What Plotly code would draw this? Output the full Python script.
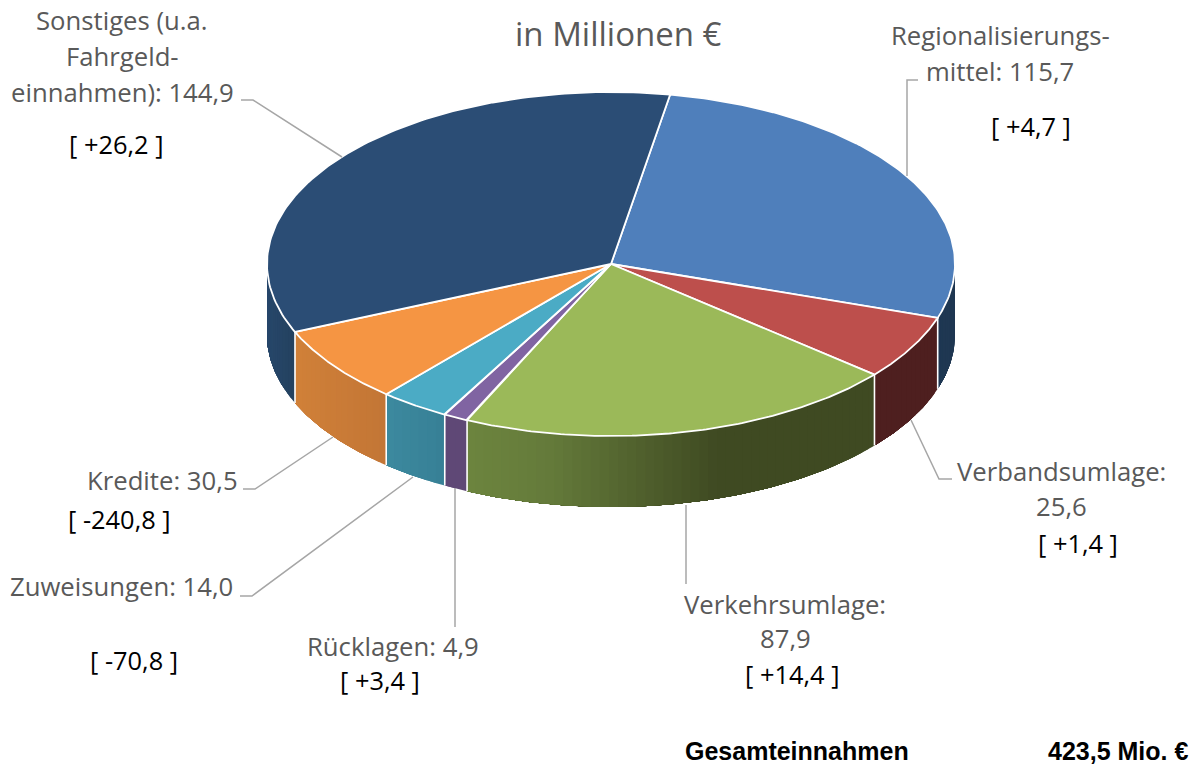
import numpy as np
import plotly.graph_objects as go

# ---- data ----
categories = ["Regionalisierungsmittel", "Verbandsumlage", "Verkehrsumlage", "Rücklagen",
              "Zuweisungen", "Kredite", "Sonstiges"]
values = [115.7, 25.6, 87.9, 4.9, 14.0, 30.5, 144.9]
changes = ["+4,7", "+1,4", "+14,4", "+3,4", "-70,8", "-240,8", "+26,2"]
total_text = "423,5 Mio. €"
title_text = "in Millionen €"

# ---- styles ----
top_colors = ["#4f7fbb", "#bd4f4c", "#9bb959", "#8064a2", "#4babc5", "#f59543", "#2b4d75"]
side_stops = [
    [(0, "#1f3752"), (1, "#1f3752")],
    [(0, "#4e1f1f"), (1, "#4e1f1f")],
    [(0, "#6d853f"), (0.2, "#657b3b"), (0.62, "#3f4a22"), (1, "#3f4a22")],
    [(0, "#5f4876"), (1, "#5f4876")],
    [(0, "#3d8a9f"), (1, "#378096")],
    [(0, "#d18139"), (1, "#c37636")],
    [(0, "#27476b"), (1, "#24425f")],
]
FONT = "Open Sans"
GREY = "#595959"
LINE = "#a6a6a6"
CX, CY, RX, RY, DEPTH = 611.0, 264.0, 344.0, 172.0, 71.0
START = 9.9


def hex_rgb(h):
    return np.array([int(h[i:i + 2], 16) for i in (1, 3, 5)], float)


def stop_color(stops, f):
    for (a, ca), (b, cb) in zip(stops, stops[1:]):
        if f <= b:
            t = 0 if b == a else (f - a) / (b - a)
            c = hex_rgb(ca) * (1 - t) + hex_rgb(cb) * t
            return "rgb(%d,%d,%d)" % tuple(c)
    return stops[-1][1]


def ex(a):
    return CX + RX * np.sin(np.radians(a))


def ey(a):
    return CY - RY * np.cos(np.radians(a))


fig = go.Figure()
shares = np.array(values) / sum(values) * 360
edges = START + np.concatenate([[0], np.cumsum(shares)])

# outer wall of the visible front half; strips overlap so no seams show
for i, name in enumerate(categories):
    lo, hi = max(edges[i], 90.0), min(edges[i + 1], 270.0)
    if hi <= lo:
        continue
    n = max(1, int((hi - lo) / 1.5))
    steps = np.linspace(lo, hi, n + 1)
    x_lo, x_hi = ex(lo), ex(hi)
    for a, b in zip(steps, steps[1:]):
        arc = np.linspace(a, hi, max(4, int((hi - a) * 2)))
        xs = np.concatenate([ex(arc), ex(arc[::-1])])
        ys = np.concatenate([ey(arc), ey(arc[::-1]) + DEPTH])
        f = abs((ex((a + b) / 2) - min(x_lo, x_hi)) / (x_hi - x_lo))
        col = stop_color(side_stops[i], f)
        fig.add_trace(go.Scatter(x=xs, y=ys, mode="lines", fill="toself", fillcolor=col,
                                 line=dict(width=0), name=name, hoverinfo="name"))

# white seams between the wall segments
for a in edges:
    a = (a - 360) if a > 360 else a
    if 90 <= a <= 270:
        fig.add_trace(go.Scatter(x=[ex(a), ex(a)], y=[ey(a), ey(a) + DEPTH], mode="lines",
                                 line=dict(color="white", width=1.6), hoverinfo="skip"))

# top faces
for i, name in enumerate(categories):
    arc = np.linspace(edges[i], edges[i + 1], 120)
    xs = np.concatenate([[CX], ex(arc), [CX]])
    ys = np.concatenate([[CY], ey(arc), [CY]])
    fig.add_trace(go.Scatter(x=xs, y=ys, mode="lines", fill="toself", fillcolor=top_colors[i],
                             line=dict(color="white", width=1.8), name=name, hoverinfo="name"))

# leader lines
leaders = [
    [(918, 80), (907, 80), (907, 176)],
    [(911, 420), (939, 479), (952, 479)],
    [(686, 505), (686, 584)],
    [(455, 488), (455, 627)],
    [(413, 477), (252, 596), (240, 596)],
    [(333, 437), (255, 489), (243, 489)],
    [(342, 157), (253, 100), (241, 100)],
]
for pts in leaders:
    fig.add_shape(type="path", xref="x", yref="y",
                  path="M " + " L ".join(f"{x} {y}" for x, y in pts),
                  line=dict(color=LINE, width=1.5))

# texts
grey_labels = [
    ("Sonstiges (u.a.", 122, 20), ("Fahrgeld-", 122, 56), ("einnahmen): 144,9", 122, 92),
    ("Regionalisierungs-", 1000, 35), ("mittel: 115,7", 1000, 71),
    ("Verbandsumlage:", 1061, 471), ("25,6", 1061, 506),
    ("Verkehrsumlage:", 785, 604), ("87,9", 785, 638),
    ("Rücklagen: 4,9", 393, 646),
    ("Zuweisungen: 14,0", 121, 586),
    ("Kredite: 30,5", 162, 480),
]
bracket_pos = [(1031, 126), (1078, 543), (792, 674), (380, 680), (134, 660), (119, 519), (116, 144)]


def note(text, x, y, size, color, family=FONT, bold=False, anchor="middle"):
    fig.add_annotation(x=x, y=y, xref="x", yref="y", text=f"<b>{text}</b>" if bold else text,
                       showarrow=False, xanchor="center", yanchor=anchor, borderpad=0,
                       font=dict(family=family, size=size, color=color))


for text, x, y in grey_labels:
    note(text, x, y, 25.7, GREY)
for ch, (x, y) in zip(changes, bracket_pos):
    note(f"[ {ch} ]", x, y, 25.4, "black")
note(title_text, 618, 33, 33, GREY)
note("Gesamteinnahmen", 797, 765.5, 25, "black", "Liberation Sans", True, "bottom")
note(total_text, 1118, 765.5, 25, "black", "Liberation Sans", True, "bottom")

fig.update_layout(
    width=1196, height=766, margin=dict(l=0, r=0, t=0, b=0),
    paper_bgcolor="white", plot_bgcolor="white", showlegend=False,
    xaxis=dict(range=[0, 1196], visible=False, fixedrange=True),
    yaxis=dict(range=[766, 0], visible=False, fixedrange=True),
)
fig.write_html("out.html", config={"displayModeBar": False},
               post_script="document.body.style.margin='0';")
